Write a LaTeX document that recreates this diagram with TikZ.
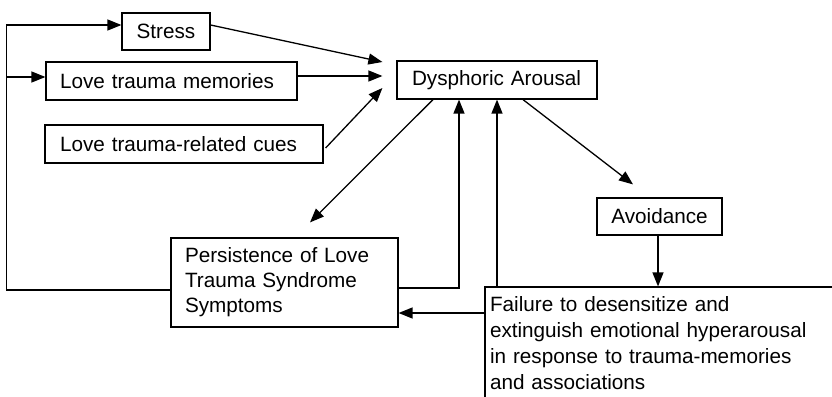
\documentclass[tikz,border=0pt]{standalone}
\usepackage{fontspec}
\setmainfont{Liberation Sans}
\usetikzlibrary{arrows.meta}
\begin{document}
\begin{tikzpicture}[x=1pt,y=-1pt,
  box/.style={draw,line width=1.2pt,inner sep=0pt,font=\fontsize{20.7}{25}\selectfont},
  arr/.style={line width=1.3pt,-{Triangle[length=14pt,width=11pt]}},
  ln/.style={line width=1.3pt}]
\useasboundingbox (0,0) rectangle (832,396);
\clip (0,0) rectangle (832,396);
\node[box,minimum width=88pt,minimum height=37pt] (stress) at (166,31.5) {Stress};
\node[box,minimum width=251pt,minimum height=38pt,text width=223pt,align=left] (mem) at (171.5,81) {Love trauma memories};
\node[box,minimum width=278pt,minimum height=38pt,text width=248pt,align=left] (cues) at (184,144) {Love trauma-related cues};
\node[box,minimum width=200pt,minimum height=38pt,text width=170pt,align=left] (dys) at (497,80) {Dysphoric Arousal};
\node[box,minimum width=227pt,minimum height=89pt,text width=199pt,align=left] (pers) at (284.5,282.5) {Persistence of Love\\Trauma Syndrome\\Symptoms};
\node[box,minimum width=125pt,minimum height=37pt] (avoid) at (659.5,216.5) {Avoidance};
\node[box,font=\fontsize{20.7}{26}\selectfont,minimum width=360pt,minimum height=112pt,text width=350pt,align=left] (fail) at (665,343) {Failure to desensitize and\\extinguish emotional hyperarousal\\in response to trauma-memories\\and associations};
% inputs to dysphoric arousal
\draw[arr] ([yshift=6.5pt]stress.east) -- ([xshift=-14pt,yshift=18pt]dys.west);
\draw[arr] ([yshift=5pt]mem.east) -- ([xshift=-14pt,yshift=4pt]dys.west);
\draw[arr] ([xshift=2pt,yshift=-4pt]cues.east) -- ([xshift=-14pt,yshift=-8pt]dys.west);
% dysphoric arousal outputs
\draw[arr] ([xshift=-64pt]dys.south) -- ([xshift=25.5pt,yshift=15pt]pers.north);
\draw[arr] ([xshift=26pt]dys.south) -- ([xshift=-26.5pt,yshift=13pt]avoid.north);
% feedbacks
\draw[arr] ([yshift=-5.5pt]pers.east) -| ([xshift=-38pt]dys.south);
\draw[arr] (dys.south |- fail.north) -- (dys.south);
\draw[arr] ([xshift=-1.5pt]avoid.south) -- ([xshift=-1.5pt]avoid.south |- fail.north);
\draw[arr] ([yshift=30pt]fail.west) -- ([yshift=-30.5pt]pers.east);
% loop on the left
\draw[arr] ([yshift=-7.5pt]pers.west) -| ([xshift=-115pt,yshift=6.5pt]stress.west) -- ([yshift=6.5pt]stress.west);
\draw[arr] ([xshift=-39pt,yshift=4pt]mem.west) -- ([yshift=4pt]mem.west);
\end{tikzpicture}
\end{document}
